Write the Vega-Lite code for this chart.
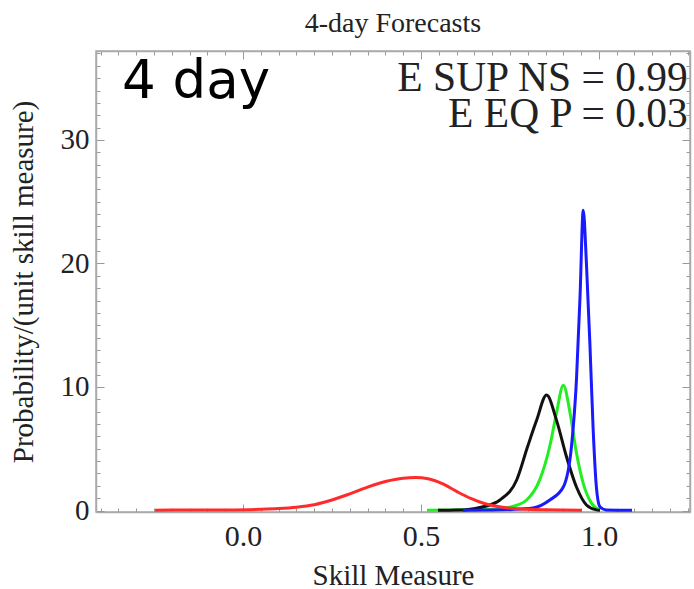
{
  "$schema": "https://vega.github.io/schema/vega-lite/v6.json",
  "autosize": {"type": "none"},
  "padding": {"left": 96, "top": 51, "right": 4, "bottom": 77},
  "width": 594,
  "height": 461,
  "background": "white",
  "config": {
    "view": {"stroke": "#aaaaaa", "strokeWidth": 1.5},
    "font": "Liberation Serif"
  },
  "data": {
    "values": [
      {"model": "A", "x": 0.517, "y": 0.02},
      {"model": "A", "x": 0.6, "y": 0.05},
      {"model": "A", "x": 0.68, "y": 0.1},
      {"model": "A", "x": 0.722, "y": 0.15},
      {"model": "A", "x": 0.76, "y": 0.35},
      {"model": "A", "x": 0.797, "y": 0.85},
      {"model": "A", "x": 0.834, "y": 2.5},
      {"model": "A", "x": 0.862, "y": 5.2},
      {"model": "A", "x": 0.881, "y": 7.9},
      {"model": "A", "x": 0.9, "y": 10.15},
      {"model": "A", "x": 0.919, "y": 7.9},
      {"model": "A", "x": 0.937, "y": 4.65},
      {"model": "A", "x": 0.956, "y": 2.2},
      {"model": "A", "x": 0.979, "y": 0.6},
      {"model": "A", "x": 1.003, "y": 0.02},
      {"model": "B", "x": 0.548, "y": 0.02},
      {"model": "B", "x": 0.6, "y": 0.04},
      {"model": "B", "x": 0.628, "y": 0.07},
      {"model": "B", "x": 0.675, "y": 0.3},
      {"model": "B", "x": 0.722, "y": 0.85},
      {"model": "B", "x": 0.769, "y": 2.47},
      {"model": "B", "x": 0.8, "y": 5.2},
      {"model": "B", "x": 0.825, "y": 7.3},
      {"model": "B", "x": 0.853, "y": 9.35},
      {"model": "B", "x": 0.881, "y": 7.3},
      {"model": "B", "x": 0.909, "y": 4.35},
      {"model": "B", "x": 0.937, "y": 1.9},
      {"model": "B", "x": 0.965, "y": 0.45},
      {"model": "B", "x": 0.993, "y": 0.05},
      {"model": "B", "x": 1.003, "y": 0.02},
      {"model": "C", "x": 0.618, "y": 0.02},
      {"model": "C", "x": 0.7, "y": 0.04},
      {"model": "C", "x": 0.78, "y": 0.12},
      {"model": "C", "x": 0.815, "y": 0.2},
      {"model": "C", "x": 0.862, "y": 0.85},
      {"model": "C", "x": 0.9, "y": 1.9},
      {"model": "C", "x": 0.923, "y": 5.2},
      {"model": "C", "x": 0.937, "y": 10.6},
      {"model": "C", "x": 0.947, "y": 17.3},
      {"model": "C", "x": 0.956, "y": 24.3},
      {"model": "C", "x": 0.965, "y": 20},
      {"model": "C", "x": 0.975, "y": 13.3},
      {"model": "C", "x": 0.984, "y": 6.5},
      {"model": "C", "x": 0.993, "y": 1.9},
      {"model": "C", "x": 1.003, "y": 0.3},
      {"model": "C", "x": 1.02, "y": 0.05},
      {"model": "C", "x": 1.093, "y": 0.02},
      {"model": "D", "x": -0.247, "y": 0.03},
      {"model": "D", "x": -0.15, "y": 0.04},
      {"model": "D", "x": -0.05, "y": 0.05},
      {"model": "D", "x": 0.05, "y": 0.1},
      {"model": "D", "x": 0.1, "y": 0.16},
      {"model": "D", "x": 0.15, "y": 0.27},
      {"model": "D", "x": 0.2, "y": 0.47},
      {"model": "D", "x": 0.25, "y": 0.85},
      {"model": "D", "x": 0.3, "y": 1.35},
      {"model": "D", "x": 0.35, "y": 1.9},
      {"model": "D", "x": 0.4, "y": 2.35},
      {"model": "D", "x": 0.45, "y": 2.62},
      {"model": "D", "x": 0.485, "y": 2.67},
      {"model": "D", "x": 0.52, "y": 2.57},
      {"model": "D", "x": 0.56, "y": 2.17},
      {"model": "D", "x": 0.6, "y": 1.55},
      {"model": "D", "x": 0.64, "y": 0.98},
      {"model": "D", "x": 0.68, "y": 0.55},
      {"model": "D", "x": 0.72, "y": 0.3},
      {"model": "D", "x": 0.76, "y": 0.16},
      {"model": "D", "x": 0.8, "y": 0.1},
      {"model": "D", "x": 0.85, "y": 0.06},
      {"model": "D", "x": 0.952, "y": 0.03}
    ]
  },
  "layer": [
    {
      "mark": {"type": "line", "strokeWidth": 3, "interpolate": "monotone", "clip": true},
      "encoding": {
        "x": {
          "field": "x",
          "type": "quantitative",
          "scale": {"domain": [-0.413, 1.256], "nice": false, "zero": false},
          "axis": {
            "orient": "bottom",
            "title": "Skill Measure",
            "titleFont": "Liberation Serif",
            "titleFontSize": 29,
            "titleFontWeight": "normal",
            "titleColor": "#222222",
            "titlePadding": 6,
            "values": [-0.4, -0.35, -0.3, -0.25, -0.2, -0.15, -0.1, -0.05, 0, 0.05, 0.1, 0.15, 0.2, 0.25, 0.3, 0.35, 0.4, 0.45, 0.5, 0.55, 0.6, 0.65, 0.7, 0.75, 0.8, 0.85, 0.9, 0.95, 1.0, 1.05, 1.1, 1.15, 1.2, 1.25],
            "labelExpr": "(abs(datum.value) < 1e-6 || abs(datum.value - 0.5) < 1e-6 || abs(datum.value - 1) < 1e-6) ? format(datum.value, '.1f') : ''",
            "labelFont": "Liberation Serif",
            "labelFontSize": 30,
            "labelColor": "#222222",
            "labelPadding": 17,
            "labelFlush": false,
            "labelOverlap": false,
            "tickColor": "#999999",
            "tickSize": {"condition": {"test": "abs(datum.value * 2 - round(datum.value * 2)) < 1e-6", "value": -8}, "value": -4},
            "domainColor": "#aaaaaa",
            "domainWidth": 1.5,
            "grid": false
          }
        },
        "y": {
          "field": "y",
          "type": "quantitative",
          "scale": {"domain": [-0.12, 37.2], "nice": false, "zero": false},
          "axis": {
            "orient": "left",
            "title": "Probability/(unit skill measure)",
            "titleFont": "Liberation Serif",
            "titleFontSize": 29,
            "titleFontWeight": "normal",
            "titleColor": "#222222",
            "titlePadding": 22,
            "values": [0, 1, 2, 3, 4, 5, 6, 7, 8, 9, 10, 11, 12, 13, 14, 15, 16, 17, 18, 19, 20, 21, 22, 23, 24, 25, 26, 27, 28, 29, 30, 31, 32, 33, 34, 35, 36, 37],
            "labelExpr": "datum.value % 10 == 0 ? format(datum.value, 'd') : ''",
            "labelFont": "Liberation Serif",
            "labelFontSize": 29,
            "labelColor": "#222222",
            "labelPadding": 15,
            "labelOverlap": false,
            "labelFlush": false,
            "tickColor": "#999999",
            "tickSize": {"condition": {"test": "datum.value % 10 == 0", "value": -8}, "value": -4},
            "domainColor": "#aaaaaa",
            "domainWidth": 1.5,
            "grid": false
          }
        },
        "color": {
          "field": "model",
          "type": "nominal",
          "scale": {"domain": ["A", "B", "C", "D"], "range": ["#22ee22", "#111111", "#1a1aff", "#ff2a2a"]},
          "legend": null
        }
      }
    },
    {
      "data": {"values": [{"label": "4 day"}]},
      "mark": {"type": "text", "font": "DejaVu Sans", "fontSize": 53, "align": "left", "baseline": "alphabetic", "color": "#000000"},
      "encoding": {
        "x": {"datum": -0.34, "type": "quantitative", "axis": {"orient": "top", "labels": false, "title": null, "values": [-0.4, -0.35, -0.3, -0.25, -0.2, -0.15, -0.1, -0.05, 0, 0.05, 0.1, 0.15, 0.2, 0.25, 0.3, 0.35, 0.4, 0.45, 0.5, 0.55, 0.6, 0.65, 0.7, 0.75, 0.8, 0.85, 0.9, 0.95, 1.0, 1.05, 1.1, 1.15, 1.2, 1.25], "tickColor": "#999999", "tickSize": {"condition": {"test": "abs(datum.value * 2 - round(datum.value * 2)) < 1e-6", "value": -8}, "value": -4}, "domainColor": "#aaaaaa", "domainWidth": 1.5, "grid": false}},
        "y": {"datum": 33.4, "type": "quantitative", "axis": {"orient": "right", "labels": false, "title": null, "values": [0, 1, 2, 3, 4, 5, 6, 7, 8, 9, 10, 11, 12, 13, 14, 15, 16, 17, 18, 19, 20, 21, 22, 23, 24, 25, 26, 27, 28, 29, 30, 31, 32, 33, 34, 35, 36, 37], "tickColor": "#999999", "tickSize": {"condition": {"test": "datum.value % 10 == 0", "value": -8}, "value": -4}, "domainColor": "#aaaaaa", "domainWidth": 1.5, "grid": false}},
        "text": {"field": "label", "type": "nominal"}
      }
    },
    {
      "data": {"values": [{"label": "E SUP NS = 0.99"}]},
      "mark": {"type": "text", "font": "Liberation Serif", "fontSize": 41.5, "align": "right", "baseline": "alphabetic", "color": "#222222"},
      "encoding": {
        "x": {"datum": 1.25, "type": "quantitative", "axis": null},
        "y": {"datum": 34.0, "type": "quantitative", "axis": null},
        "text": {"field": "label", "type": "nominal"}
      }
    },
    {
      "data": {"values": [{"label": "E EQ P = 0.03"}]},
      "mark": {"type": "text", "font": "Liberation Serif", "fontSize": 41.5, "align": "right", "baseline": "alphabetic", "color": "#222222"},
      "encoding": {
        "x": {"datum": 1.25, "type": "quantitative", "axis": null},
        "y": {"datum": 31.05, "type": "quantitative", "axis": null},
        "text": {"field": "label", "type": "nominal"}
      }
    },
    {
      "data": {"values": [{"label": "4-day Forecasts"}]},
      "mark": {"type": "text", "font": "Liberation Serif", "fontSize": 28, "align": "center", "baseline": "alphabetic", "color": "#222222", "clip": false},
      "encoding": {
        "x": {"datum": 0.4213, "type": "quantitative", "axis": null},
        "y": {"datum": 38.74, "type": "quantitative", "axis": null},
        "text": {"field": "label", "type": "nominal"}
      }
    }
  ]
}
